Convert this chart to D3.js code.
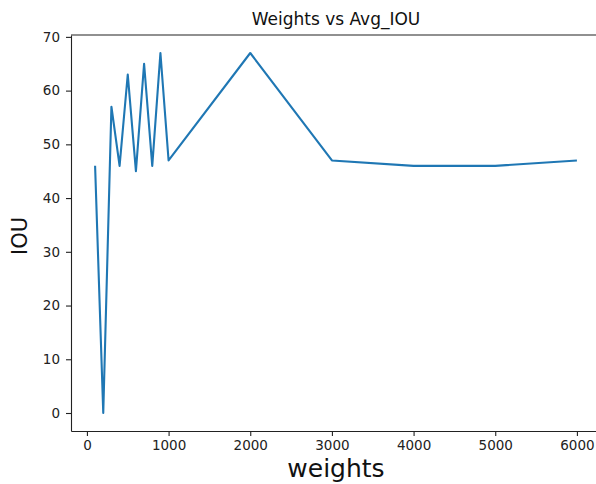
<!DOCTYPE html>
<html>
<head>
<meta charset="utf-8">
<script src="https://cdn.jsdelivr.net/npm/d3@7"></script>
<style>
  html, body { margin: 0; padding: 0; background: #fff; }
  svg { display: block; font-family: "DejaVu Sans", sans-serif; }
</style>
</head>
<body>
<svg id="chart" width="596" height="484"></svg>
<script>
// Weight setting vs averaged IOU
const weights = [100, 200, 300, 400, 500, 600, 700, 800, 900, 1000, 2000, 3000, 4000, 5000, 6000];
const avgIou  = [46, 0, 57, 46, 63, 45, 65, 46, 67, 47, 67, 47, 46, 46, 47];
const xTicks = [0, 1000, 2000, 3000, 4000, 5000, 6000];
const yTicks = [0, 10, 20, 30, 40, 50, 60, 70];

const svg = d3.select("#chart");
const plot = { left: 71, top: 35, right: 601, bottom: 431 };

// 5% padding around the data extent on both axes
const xPad = (d3.max(weights) - d3.min(weights)) * 0.05;
const yPad = (d3.max(avgIou) - d3.min(avgIou)) * 0.05;
const x = d3.scaleLinear()
  .domain([d3.min(weights) - xPad, d3.max(weights) + xPad])
  .range([plot.left, plot.right]);
const y = d3.scaleLinear()
  .domain([d3.min(avgIou) - yPad, d3.max(avgIou) + yPad])
  .range([plot.bottom, plot.top]);

// Data line
const line = d3.line().x((d, i) => x(weights[i])).y(d => y(d));
svg.append("path")
  .datum(avgIou)
  .attr("fill", "none")
  .attr("stroke", "#1f77b4")
  .attr("stroke-width", 2.1)
  .attr("stroke-linejoin", "round")
  .attr("stroke-linecap", "butt")
  .attr("d", line);

// Axes
const xAxis = d3.axisBottom(x).tickValues(xTicks).tickFormat(d3.format("d"))
  .tickSizeInner(5).tickSizeOuter(0).tickPadding(13);
const yAxis = d3.axisLeft(y).tickValues(yTicks).tickFormat(d3.format("d"))
  .tickSizeInner(5).tickSizeOuter(0).tickPadding(6);

const gx = svg.append("g").attr("transform", `translate(0,${plot.bottom})`).call(xAxis);
const gy = svg.append("g").attr("transform", `translate(${plot.left},0)`).call(yAxis);

[gx, gy].forEach(g => {
  g.selectAll("text").attr("font-family", "DejaVu Sans").attr("font-size", 13.5).attr("fill", "#222");
  g.selectAll(".tick line").attr("stroke", "#222").attr("stroke-width", 1.1);
  g.select(".domain").attr("stroke", "#222").attr("stroke-width", 1.1);
});
gx.selectAll("text").attr("dy", "0.1em");

// Top and right spines
svg.append("line")
  .attr("x1", plot.left).attr("x2", plot.right)
  .attr("y1", plot.top).attr("y2", plot.top)
  .attr("stroke", "#222").attr("stroke-width", 1.1);
svg.append("line")
  .attr("x1", plot.right).attr("x2", plot.right)
  .attr("y1", plot.top).attr("y2", plot.bottom)
  .attr("stroke", "#222").attr("stroke-width", 1.1);

// Title and axis labels
svg.append("text")
  .attr("x", (plot.left + plot.right) / 2).attr("y", 25)
  .attr("text-anchor", "middle")
  .attr("font-size", 17).attr("fill", "#111")
  .text("Weights vs Avg_IOU");

svg.append("text")
  .attr("x", (plot.left + plot.right) / 2).attr("y", 477)
  .attr("text-anchor", "middle")
  .attr("font-size", 25).attr("fill", "#111")
  .text("weights");

svg.append("text")
  .attr("transform", `translate(27,${(plot.top + plot.bottom) / 2 + 3}) rotate(-90)`)
  .attr("text-anchor", "middle")
  .attr("font-size", 21).attr("fill", "#111")
  .text("IOU");
</script>
</body>
</html>
